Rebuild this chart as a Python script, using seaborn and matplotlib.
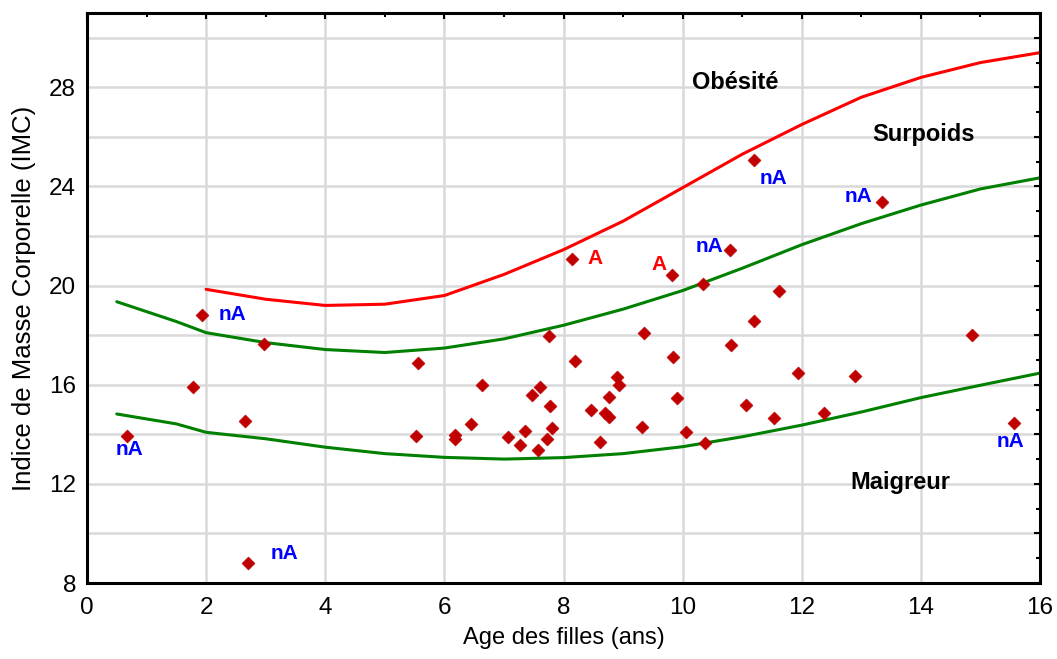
import matplotlib
matplotlib.use("Agg")
import matplotlib.pyplot as plt
import seaborn as sns
import pandas as pd
from matplotlib.ticker import MultipleLocator, FuncFormatter

# ---------------- data ----------------
obese_age = [2, 3, 4, 5, 6, 7, 8, 9, 10, 11, 12, 13, 14, 15, 16]
obese_imc = [19.85, 19.45, 19.2, 19.25, 19.6, 20.45, 21.45, 22.6, 23.95,
             25.3, 26.5, 27.6, 28.4, 29.0, 29.4]

ref_age = [0.5, 1.5, 2, 3, 4, 5, 6, 7, 8, 9, 10, 11, 12, 13, 14, 15, 16]
over_imc = [19.35, 18.55, 18.1, 17.7, 17.42, 17.3, 17.48, 17.85, 18.4, 19.05,
            19.8, 20.7, 21.65, 22.5, 23.25, 23.9, 24.35]
thin_imc = [14.82, 14.42, 14.08, 13.82, 13.48, 13.22, 13.07, 13.0, 13.06,
            13.22, 13.5, 13.9, 14.37, 14.9, 15.48, 15.98, 16.47]

pt_age = [0.67, 1.78, 1.93, 2.65, 2.70, 2.98, 5.53, 5.55, 6.18, 6.18, 6.44, 6.64,
          7.07, 7.27, 7.36, 7.47, 7.57, 7.60, 7.73, 7.75, 7.77, 7.81, 8.15, 8.20,
          8.47, 8.62, 8.69, 8.76, 8.76, 8.89, 8.93, 9.31, 9.35, 9.82, 9.84, 9.90,
          10.05, 10.34, 10.38, 10.80, 10.81, 11.07, 11.20, 11.20, 11.54, 11.62,
          11.93, 12.37, 12.90, 13.34, 14.86, 15.56]
pt_imc = [13.93, 15.89, 18.80, 14.53, 8.79, 17.63, 13.93, 16.86, 13.97, 13.80,
          14.41, 15.98, 13.90, 13.56, 14.14, 15.60, 13.36, 15.92, 13.83, 17.97,
          15.15, 14.24, 21.08, 16.96, 15.00, 13.69, 14.84, 14.71, 15.51, 16.32,
          15.98, 14.30, 18.07, 20.43, 17.10, 15.47, 14.08, 20.08, 13.66, 21.45,
          17.60, 15.17, 25.06, 18.58, 14.64, 19.79, 16.46, 14.87, 16.36, 23.38,
          18.01, 14.45]

# annotated points: index into pt lists, text
lab_idx = [2, 0, 4, 42, 49, 39, 51, 22, 33]
lab_txt = ["nA", "nA", "nA", "nA", "nA", "nA", "nA", "A", "A"]

zones = ["Obésité", "Surpoids", "Maigreur"]

x_label = "Age des filles (ans)"
y_label = "Indice de Masse Corporelle (IMC)"

# ---------------- styling ----------------
sns.set_style("white")
plt.rcParams["font.family"] = ["Liberation Sans", "DejaVu Sans"]
plt.rcParams["text.color"] = "black"
plt.rcParams["axes.labelcolor"] = "black"
plt.rcParams["xtick.color"] = "black"
plt.rcParams["ytick.color"] = "black"

fig = plt.figure(figsize=(10.57, 6.59), dpi=100)
ax = fig.add_axes([87 / 1057, 1 - 583 / 659, (1040 - 87) / 1057, (583 - 13) / 659])

curves = pd.concat([
    pd.DataFrame({"age": obese_age, "imc": obese_imc, "curve": "obese"}),
    pd.DataFrame({"age": ref_age, "imc": over_imc, "curve": "over"}),
    pd.DataFrame({"age": ref_age, "imc": thin_imc, "curve": "thin"}),
])
sns.lineplot(data=curves, x="age", y="imc", hue="curve", units="curve",
             estimator=None, sort=False, legend=False, linewidth=2.2,
             palette={"obese": "#ff0000", "over": "#008000", "thin": "#008000"},
             ax=ax, zorder=2)

pts = pd.DataFrame({"age": pt_age, "imc": pt_imc})
sns.scatterplot(data=pts, x="age", y="imc", marker="D", s=44, color="#c00000",
                edgecolor="#c00000", linewidth=0.4, ax=ax, zorder=3)

offsets = {  # text offsets in points (left edge, baseline)
    2: (11.7, -3.1), 0: (-8.4, -13.7), 4: (16.3, 2.9), 42: (4.3, -16.8),
    49: (-26.4, 0.0), 39: (-24.7, -1.7), 51: (-12.5, -17.1),
    22: (10.8, -3.8), 33: (-14.4, 3.9),
}
for i, t in zip(lab_idx, lab_txt):
    ax.annotate(t, xy=(pt_age[i], pt_imc[i]), xytext=offsets[i],
                textcoords="offset points", ha="left", va="baseline",
                fontsize=15, fontweight="bold",
                color="#0000ff" if t == "nA" else "#ff0000", zorder=4)

zone_pos = [(10.88, 27.95), (14.05, 25.82), (13.65, 11.78)]
for z, (zx, zy) in zip(zones, zone_pos):
    ax.text(zx, zy, z, ha="center", va="baseline", fontsize=17,
            fontweight="bold", color="black", zorder=4)

ax.set_xlim(0, 16)
ax.set_ylim(8, 31)
ax.xaxis.set_major_locator(MultipleLocator(2))
ax.xaxis.set_minor_locator(MultipleLocator(1))
ax.yaxis.set_major_locator(MultipleLocator(2))
ax.yaxis.set_minor_locator(MultipleLocator(1))
ax.yaxis.set_major_formatter(FuncFormatter(
    lambda v, p: f"{v:.0f}" if round(v) % 4 == 0 else ""))

ax.grid(True, which="major", color="#d9d9d9", linewidth=1.8, zorder=0)
ax.set_axisbelow(True)
for s in ax.spines.values():
    s.set_color("black")
    s.set_linewidth(2.2)
ax.tick_params(which="both", direction="in", top=True, right=True,
               color="black", width=1.5)
ax.tick_params(which="major", length=4.5, labelsize=17.5, pad=8)
ax.tick_params(which="minor", length=3)
ax.tick_params(axis="x", which="major", pad=10)

ax.set_xlabel(x_label, fontsize=17, labelpad=6)
ax.set_ylabel(y_label, fontsize=18.5, labelpad=9)

fig.savefig("out.png", dpi=100)
